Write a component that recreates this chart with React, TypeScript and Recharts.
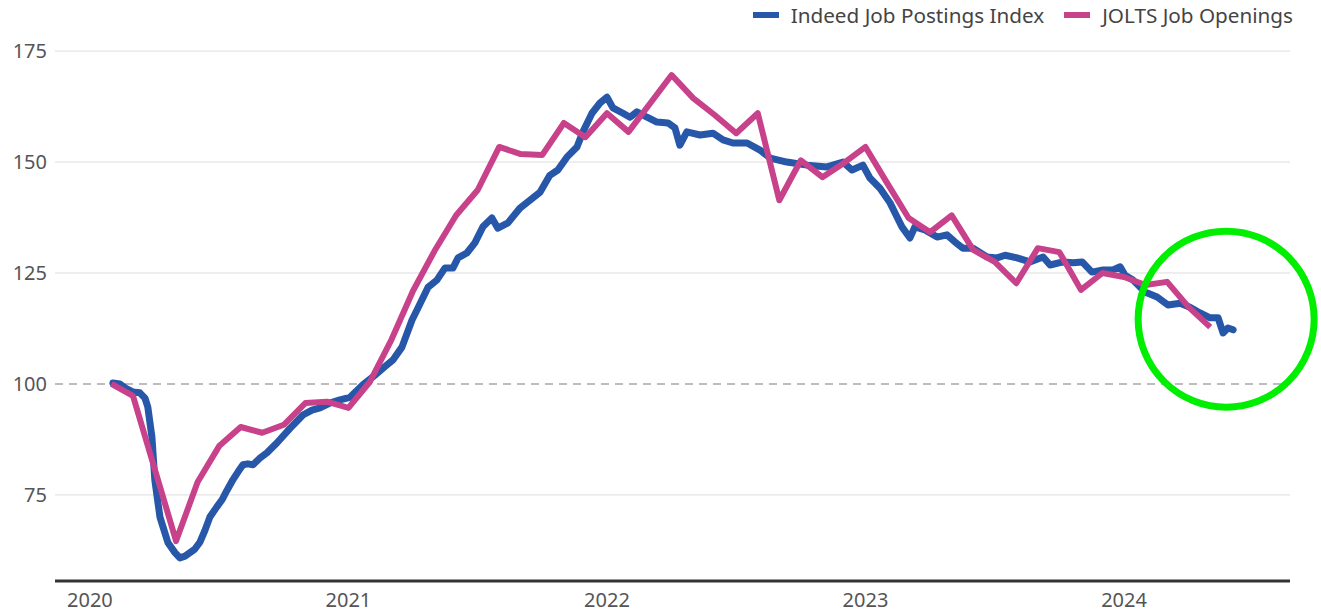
import { LineChart, Line, XAxis, YAxis, ReferenceLine, ReferenceDot, Legend } from 'recharts'

// Indeed Job Postings Index (x in decimal years)
const indeedX = [
  2020.089, 2020.116, 2020.139, 2020.166, 2020.193, 2020.213, 2020.224, 2020.24, 2020.251, 2020.271,
  2020.302, 2020.329, 2020.348, 2020.368, 2020.387, 2020.406, 2020.426, 2020.445, 2020.464, 2020.491,
  2020.511, 2020.53, 2020.553, 2020.573, 2020.592, 2020.611, 2020.631, 2020.658, 2020.685, 2020.723,
  2020.774, 2020.824, 2020.859, 2020.89, 2020.928, 2020.967, 2021.006, 2021.056, 2021.095, 2021.149,
  2021.172, 2021.207, 2021.246, 2021.269, 2021.308, 2021.342, 2021.373, 2021.404, 2021.424, 2021.458,
  2021.489, 2021.52, 2021.555, 2021.578, 2021.617, 2021.663, 2021.702, 2021.741, 2021.779, 2021.81,
  2021.845, 2021.884, 2021.907, 2021.942, 2021.973, 2022.0, 2022.023, 2022.062, 2022.089, 2022.116,
  2022.155, 2022.193, 2022.236, 2022.263, 2022.282, 2022.309, 2022.36, 2022.41, 2022.449, 2022.487,
  2022.542, 2022.592, 2022.631, 2022.696, 2022.774, 2022.851, 2022.913, 2022.948, 2022.99, 2023.017,
  2023.056, 2023.095, 2023.122, 2023.141, 2023.172, 2023.191, 2023.23, 2023.277, 2023.315, 2023.346,
  2023.377, 2023.416, 2023.47, 2023.509, 2023.54, 2023.586, 2023.636, 2023.687, 2023.714, 2023.764,
  2023.803, 2023.838, 2023.876, 2023.919, 2023.957, 2023.985, 2024.004, 2024.035, 2024.081, 2024.128,
  2024.17, 2024.217, 2024.255, 2024.294, 2024.333, 2024.364, 2024.383, 2024.402, 2024.422,
]
const indeedValues = [
  100.2, 100, 99, 98.2, 98, 96.8, 94.8, 88, 78.4, 70,
  64.2, 62, 60.8, 61.2, 62, 62.8, 64.4, 67, 70, 72.3,
  73.9, 76, 78.4, 80.2, 81.8, 82, 81.8, 83.3, 84.5, 86.7,
  90, 93, 94.1, 94.6, 95.7, 96.4, 97, 99.8, 101.6, 104.3,
  105.4, 108.3, 114.4, 117.1, 121.8, 123.4, 126.1, 126.1, 128.4, 129.5,
  131.8, 135.4, 137.4, 135.1, 136.3, 139.6, 141.4, 143.2, 147, 148.2,
  151.1, 153.4, 156.8, 161, 163.3, 164.6, 162.2, 161, 160.1, 161.3,
  160.1, 159, 158.8, 157.7, 153.8, 156.8, 156.1, 156.5, 155, 154.3,
  154.3, 152.7, 150.9, 150, 149.3, 148.9, 150, 148.2, 149.3, 146.4,
  144.1, 140.8, 137.6, 135.4, 132.9, 135.4, 134.7, 133.1, 133.6, 132,
  130.6, 130.6, 128.6, 128.4, 129, 128.4, 127.5, 128.6, 126.8, 127.5,
  127.3, 127.5, 125.2, 125.7, 125.7, 126.4, 124.5, 123.4, 120.7, 119.6,
  117.8, 118.2, 117.3, 116, 114.9, 114.9, 111.5, 112.6, 112.2,
]

// JOLTS job openings, monthly
const joltsMonths = [
  '2020-02', '2020-03', '2020-04', '2020-05', '2020-06', '2020-07', '2020-08', '2020-09', '2020-10', '2020-11', '2020-12',
  '2021-01', '2021-02', '2021-03', '2021-04', '2021-05', '2021-06', '2021-07', '2021-08', '2021-09', '2021-10', '2021-11', '2021-12',
  '2022-01', '2022-02', '2022-03', '2022-04', '2022-05', '2022-06', '2022-07', '2022-08', '2022-09', '2022-10', '2022-11', '2022-12',
  '2023-01', '2023-02', '2023-03', '2023-04', '2023-05', '2023-06', '2023-07', '2023-08', '2023-09', '2023-10', '2023-11', '2023-12',
  '2024-01', '2024-02', '2024-03', '2024-04', '2024-05',
]
const joltsValues = [
  100, 97.3, 81, 64.6, 77.9, 86, 90.3, 89, 90.8, 95.7, 96,
  94.6, 100.5, 110, 121, 130, 138, 143.7, 153.4, 151.8, 151.6, 158.8, 155.6,
  161, 156.8, 163.2, 169.6, 164.4, 160.6, 156.5, 161, 141.4, 150.4, 146.6, 149.8,
  153.4, 145.3, 137.4, 134.2, 138, 130.2, 127.5, 122.7, 130.6, 129.7, 121.2, 125,
  124.1, 122.3, 123, 117.3, 112.8,
]

const yearTicks = [2020, 2021, 2022, 2023, 2024]
const valueTicks = [75, 100, 125, 150, 175]

const BLUE = '#2757a8'
const PINK = '#c8428b'
const FONT = '"Noto Sans", "Open Sans", sans-serif'

const indeedData = indeedX.map((x, i) => ({ x, value: indeedValues[i] }))
const joltsData = joltsMonths.map((m, i) => {
  const [y, mo] = m.split('-').map(Number)
  return { x: y + (mo - 1) / 12, value: joltsValues[i] }
})

const legendItems = [
  { name: 'Indeed Job Postings Index', color: BLUE },
  { name: 'JOLTS Job Openings', color: PINK },
]

function ChartLegend() {
  return (
    <div
      style={{
        display: 'flex',
        justifyContent: 'flex-end',
        alignItems: 'center',
        height: 30,
        paddingRight: 28,
        fontFamily: FONT,
        fontSize: 20.7,
        color: '#444',
      }}
    >
      {legendItems.map((it, i) => (
        <div key={it.name} style={{ display: 'flex', alignItems: 'center', marginLeft: i ? 20 : 0 }}>
          <span style={{ display: 'inline-block', width: 26, height: 6, background: it.color, marginRight: 12 }} />
          <span>{it.name}</span>
        </div>
      ))}
    </div>
  )
}

export default function App() {
  return (
    <div style={{ position: 'absolute', left: 0, top: 0, width: 1321, height: 613, background: '#fff' }}>
      <LineChart width={1321} height={613} margin={{ top: 10, right: 31, bottom: 0, left: 5 }}>
        <Legend
          verticalAlign="top"
          align="right"
          content={<ChartLegend />}
          wrapperStyle={{ left: 0, top: 0, width: 1321 }}
        />
        <XAxis
          type="number"
          dataKey="x"
          domain={[2019.865, 2024.642]}
          ticks={yearTicks}
          allowDataOverflow
          height={32}
          tickLine={false}
          axisLine={{ stroke: '#333', strokeWidth: 3 }}
          tick={{ fill: '#555', fontSize: 20, fontFamily: FONT }}
          tickMargin={6}
        />
        <YAxis
          type="number"
          domain={[55.6, 177.5]}
          ticks={valueTicks}
          allowDataOverflow
          width={50}
          tickLine={false}
          axisLine={false}
          tick={{ fill: '#555', fontSize: 20, fontFamily: FONT }}
        />
        {[75, 125, 150, 175].map(v => (
          <ReferenceLine key={v} y={v} stroke="#dcdcdc" strokeWidth={1} />
        ))}
        <ReferenceLine y={100} stroke="#bdbdbd" strokeWidth={2} strokeDasharray="8 6" />
        <Line
          data={indeedData}
          dataKey="value"
          type="linear"
          stroke={BLUE}
          strokeWidth={7}
          strokeLinejoin="round"
          strokeLinecap="round"
          dot={false}
          isAnimationActive={false}
        />
        <Line
          data={joltsData}
          dataKey="value"
          type="linear"
          stroke={PINK}
          strokeWidth={6}
          strokeLinejoin="round"
          dot={false}
          isAnimationActive={false}
        />
        <ReferenceDot
          x={2024.395}
          y={114.6}
          r={88}
          fill="none"
          stroke="#00ee00"
          strokeWidth={7}
          ifOverflow="visible"
        />
      </LineChart>
    </div>
  )
}
